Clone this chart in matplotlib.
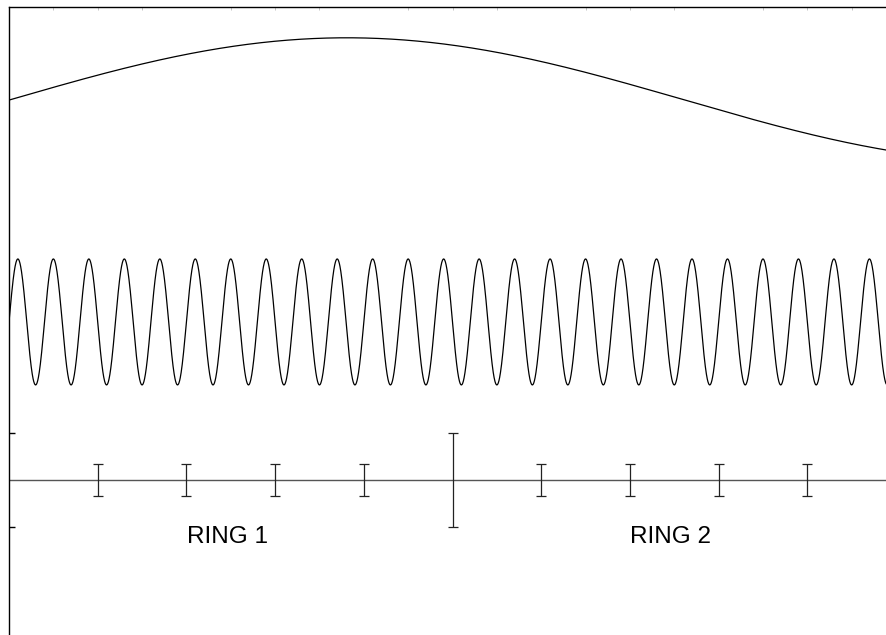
import numpy as np
import matplotlib.pyplot as plt

plt.rcParams['font.family'] = ['Liberation Sans', 'DejaVu Sans']

# Error bar sites along the baseline (ring spacing units)
site_x = [1, 2, 3, 4, 5, 6, 7, 8, 9]
site_err = [0.34, 0.34, 0.34, 0.34, 1.0, 0.34, 0.34, 0.34, 0.34]

# Fast carrier wave: centre, amplitude, period
fast_centre = 3.36
fast_amp = 1.34
fast_period = 0.4

# Slow envelope wave: centre, amplitude, period, crest position
slow_centre = 8.085
slow_amp = 1.32
slow_period = 15.2
slow_crest = 3.81

ring_labels = ['RING 1', 'RING 2']
ring_label_x = [2.46, 7.46]
ring_label_y = -1.21

top_ticks = [0.5, 1, 1.5, 2.5, 3, 3.5, 4.5, 5, 5.5, 6.5, 7, 7.5, 8.5, 9, 9.5]
left_ticks = [-1, 1]

x_max = 9.887

fig = plt.figure(figsize=(8.86, 6.35), dpi=100)
ax = fig.add_axes([9 / 886, 0, 1 - 9 / 886, 628 / 635])

x = np.linspace(0, x_max, 4000)
ax.plot(x, fast_centre + fast_amp * np.sin(2 * np.pi * x / fast_period),
        color='black', lw=0.9)
ax.plot(x, slow_centre + slow_amp * np.cos(2 * np.pi * (x - slow_crest) / slow_period),
        color='black', lw=0.9)

# baseline and error bars
ax.axhline(0, color='#555555', lw=1.0)
ax.errorbar(site_x, np.zeros(len(site_x)), yerr=site_err, fmt='none',
            ecolor='#222222', elinewidth=0.9, capsize=3.3, capthick=0.9)

for lab, lx in zip(ring_labels, ring_label_x):
    ax.text(lx, ring_label_y, lab, ha='center', va='center', fontsize=17.5)

ax.set_xlim(0, x_max)
ax.set_ylim(-3.30, 10.06)

ax.spines['right'].set_visible(False)
ax.spines['bottom'].set_visible(False)
ax.spines['left'].set_linewidth(1.0)
ax.spines['top'].set_linewidth(1.0)

ax.set_yticks(left_ticks)
ax.set_yticklabels([])
ax.tick_params(axis='y', direction='in', length=4, width=1.0, color='black')

ax.xaxis.set_ticks_position('top')
ax.set_xticks(top_ticks)
ax.set_xticklabels([])
ax.tick_params(axis='x', direction='in', length=2, width=0.6, color='#bbbbbb')

fig.savefig('out.png', dpi=100)
